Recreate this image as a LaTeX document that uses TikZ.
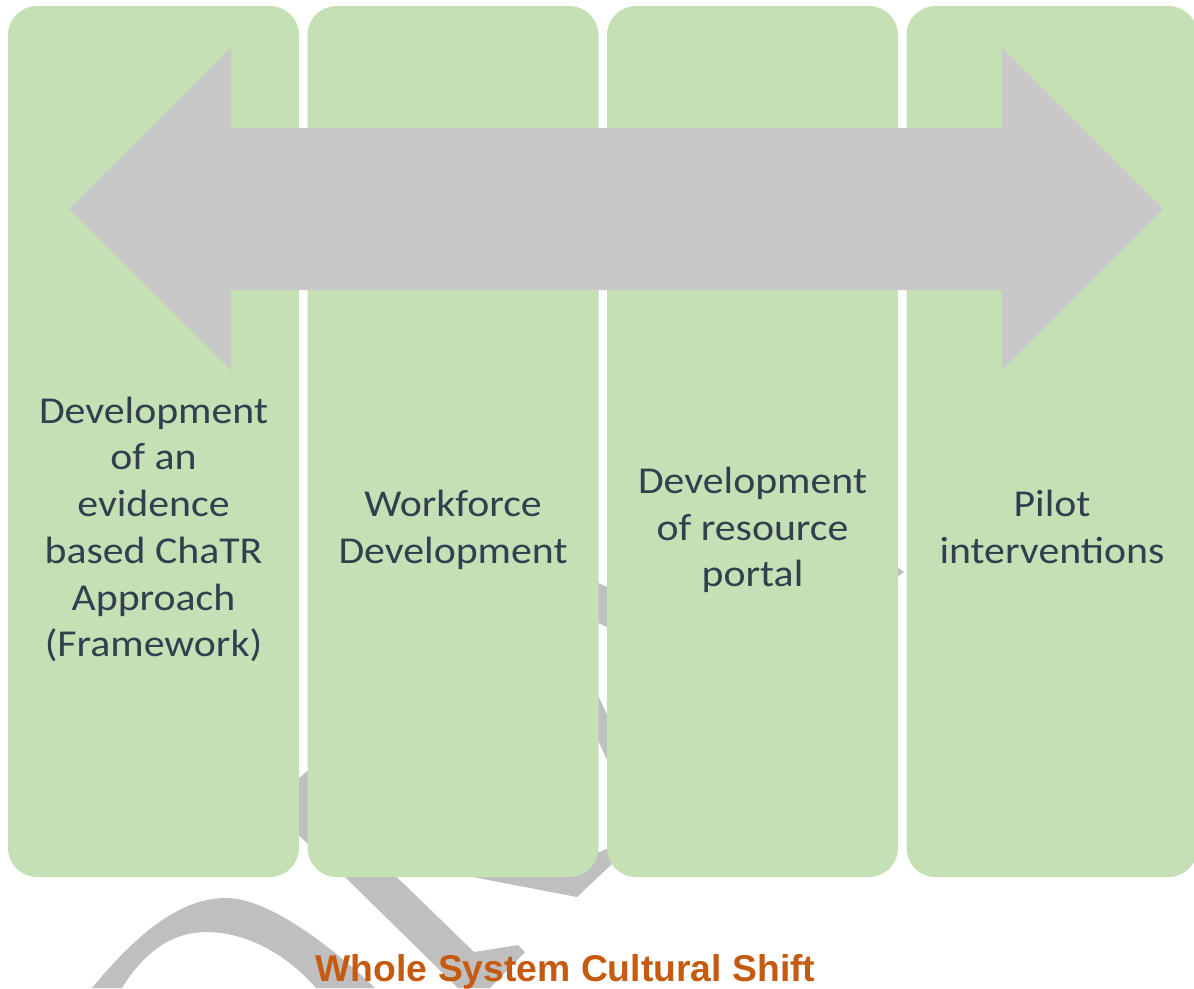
\documentclass[tikz,border=0pt]{standalone}
\usepackage{fontspec}
\newfontfamily\boxfont[FakeStretch=1.1]{Carlito}
\newfontfamily\capfont{Liberation Sans}
\definecolor{boxgreen}{HTML}{C5E0B4}
\definecolor{arrowgrey}{HTML}{C8C8C8}
\definecolor{backgrey}{HTML}{BFBFBF}
\definecolor{textdark}{HTML}{323F4F}
\definecolor{shiftorange}{HTML}{C55A11}
\tikzset{
  stage/.style={fill=boxgreen, draw=none, rounded corners=29pt, minimum width=291pt, minimum height=871pt, inner sep=0pt},
  stagetext/.style={text=textdark, align=center, inner sep=0pt, font=\boxfont\fontsize{38}{46.7}\selectfont},
  backshape/.style={fill=backgrey, draw=none},
  bigarrow/.style={fill=arrowgrey, draw=none},
  shiftlabel/.style={text=shiftorange, inner sep=0pt, anchor=base, font=\capfont\bfseries\fontsize{37.3}{44}\selectfont}
}
\begin{document}
\begin{tikzpicture}[x=1pt,y=-1pt]
\useasboundingbox (0,0) rectangle (1194,988);
% background grey loop pieces (mostly hidden behind the stages)
\fill[backshape] (92,988) .. controls (140,930) and (182,898) .. (226,898) .. controls (268,898) and (330,945) .. (375,988) -- (316,988) .. controls (290,958) and (250,932) .. (206,932) .. controls (170,932) and (142,955) .. (122,988) -- cycle;
\fill[backshape] (266,806) -- (330,752) -- (385,866) -- (405,885) -- (474,952) -- (518,945) -- (525,952) -- (490,988) -- (458,988) -- (345,877) -- cycle;
\fill[backshape] (460,850) -- (470,876.5) -- (577,897) -- (650,828) -- (600,852) -- cycle;
\fill[backshape] (560,566) -- (650,606) -- (650,646) -- (560,606) -- cycle;
\fill[backshape] (580,655) -- (625,755) -- (625,800) -- (580,700) -- cycle;
\fill[backshape] (880,555) -- (904,572) -- (880,590) -- cycle;
% stages
\node[stage] (b1) at (153.5,441.5) {};
\node[stage] (b2) at (453,441.5) {};
\node[stage] (b3) at (752.5,441.5) {};
\node[stage] (b4) at (1052,441.5) {};
% double arrow
\fill[bigarrow] (69,209) -- (231,48) -- (231,128) -- (1002,128) -- (1002,48) -- (1163,209) -- (1002,370) -- (1002,290) -- (231,290) -- (231,370) -- cycle;
% stage texts
\node[stagetext] (t1) at (153.5,530.66) {\strut Development\\\strut of an\\\strut evidence\\\strut based ChaTR\\\strut Approach\\\strut (Framework)};
\node[stagetext] (t2) at (453,530.66) {\strut Workforce\\\strut Development};
\node[stagetext] (t3) at (752.5,530.66) {\strut Development\\\strut of resource\\\strut portal};
\node[stagetext] (t4) at (1052,530.66) {\strut Pilot\\\strut interventions};
% label
\node[shiftlabel] (shift) at (565.5,981.5) {Whole System Cultural Shift};
\end{tikzpicture}
\end{document}
